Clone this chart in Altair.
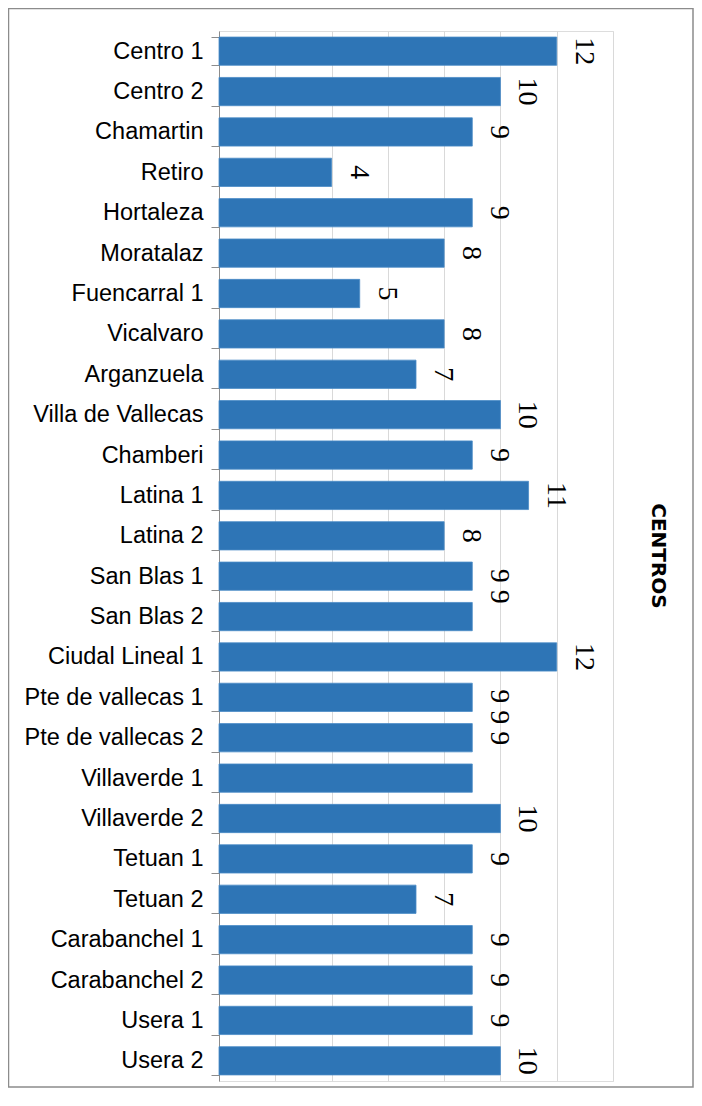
import altair as alt
import pandas as pd

categories = ["Centro 1", "Centro 2", "Chamartin", "Retiro", "Hortaleza", "Moratalaz",
              "Fuencarral 1", "Vicalvaro", "Arganzuela", "Villa de Vallecas", "Chamberi",
              "Latina 1", "Latina 2", "San Blas 1", "San Blas 2", "Ciudal Lineal 1",
              "Pte de vallecas 1", "Pte de vallecas 2", "Villaverde 1", "Villaverde 2",
              "Tetuan 1", "Tetuan 2", "Carabanchel 1", "Carabanchel 2", "Usera 1", "Usera 2"]
values = [12, 10, 9, 4, 9, 8, 5, 8, 7, 10, 9, 11, 8, 9, 9, 12, 9, 9, 9, 10, 9, 7, 9, 9, 9, 10]
labels = ["12", "10", "9", "4", "9", "8", "5", "8", "7", "10", "9", "11", "8", "9 9", "",
          "12", "9 9 9", "", "", "10", "9", "7", "9", "9", "9", "10"]
grid_ticks = [0, 2, 4, 6, 8, 10, 12, 14]
title_text = "CENTROS"

df = pd.DataFrame({"centro": categories, "valor": values, "etiqueta": labels})

W, H = 394, 1050
BLUE = "#2e75b6"
AXIS_GRAY = "#8c8c8c"

x_scale = alt.Scale(domain=[0, 14], nice=False, zero=True)
y_scale = alt.Scale(domain=categories, paddingInner=0.3, paddingOuter=0.15)

x_enc = alt.X("valor:Q", scale=x_scale,
              axis=alt.Axis(title=None, values=grid_ticks, grid=True, gridColor="#d9d9d9",
                            gridWidth=1, labels=False, ticks=False, domain=False))
y_enc = alt.Y("centro:N", scale=y_scale, sort=categories,
              axis=alt.Axis(title=None, tickBand="extent", tickColor=AXIS_GRAY, tickSize=8,
                            domainColor=AXIS_GRAY, labelFont="Liberation Sans", labelFontSize=23.5,
                            labelColor="#000000", labelPadding=8, labelLimit=260, grid=False))

base = alt.Chart(df)

bars = base.mark_bar(color=BLUE, stroke="#4a8bc7", strokeWidth=0.8).encode(x=x_enc, y=y_enc)

text_common = dict(angle=90, align="center", baseline="middle", xOffset=27,
                   font="Liberation Sans Narrow", fontSize=28, color="#000000")

def label_layer(expr, **kw):
    return base.transform_filter(expr).mark_text(**text_common, **kw).encode(
        x=alt.X("valor:Q", scale=x_scale),
        y=alt.Y("centro:N", scale=y_scale, sort=categories),
        text="etiqueta:N")

txt_single = label_layer("length(datum.etiqueta) > 0 && length(datum.etiqueta) <= 2")
txt_double = label_layer("length(datum.etiqueta) == 3", yOffset=10)
txt_triple = label_layer("length(datum.etiqueta) == 5", yOffset=20)

deco = alt.Chart(pd.DataFrame({"t": [title_text]}))

title = deco.mark_text(angle=90, align="center", baseline="middle", font="DejaVu Sans",
                       fontSize=20, fontWeight="bold", color="#000000").encode(
    x=alt.value(439), y=alt.value(525), text="t:N")

frame = deco.mark_rect(filled=False, stroke=AXIS_GRAY, strokeWidth=1.5).encode(
    x=alt.value(-210.5), x2=alt.value(474), y=alt.value(-22.5), y2=alt.value(1056))

chart = alt.layer(bars, txt_single, txt_double, txt_triple, title, frame).properties(
    width=W, height=H,
    autosize=alt.AutoSizeParams(type="none"),
    padding={"left": 211, "top": 23, "right": 81, "bottom": 7},
).configure_view(stroke=None).configure(background="#ffffff")

chart.save("out.html", embed_options={"renderer": "svg", "actions": False})
